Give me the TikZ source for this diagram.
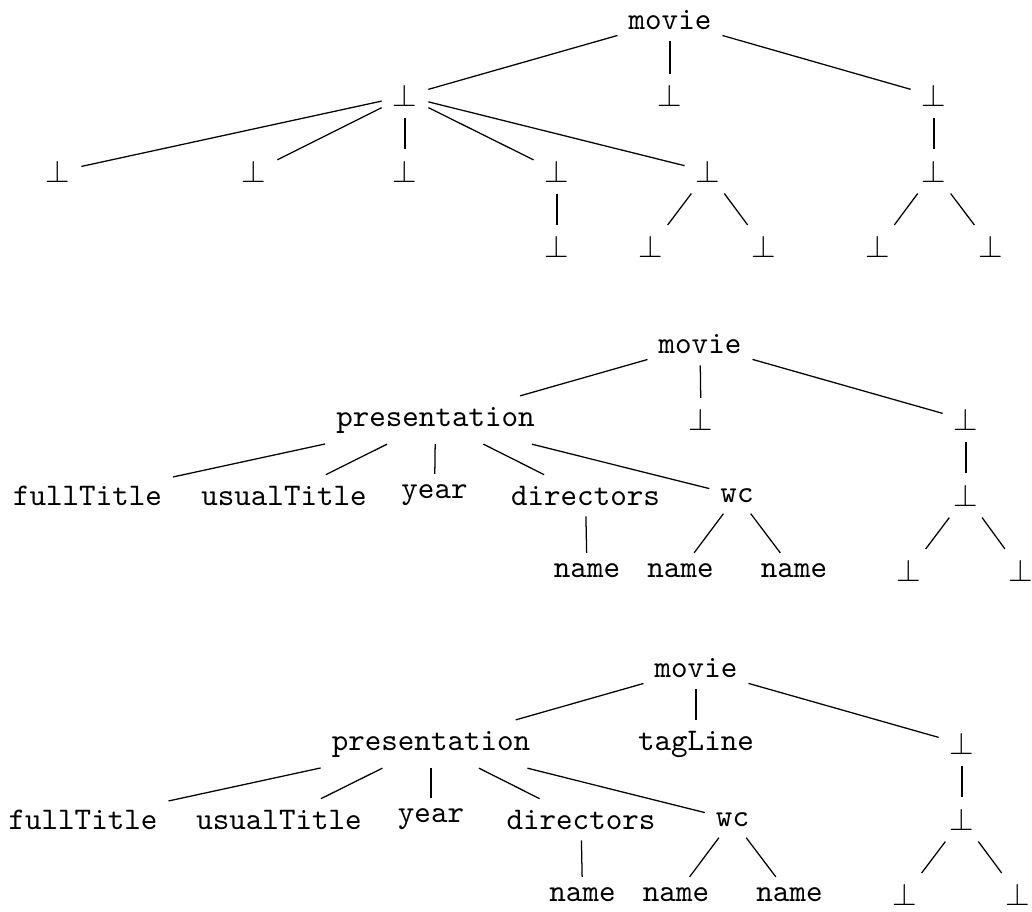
\documentclass[tikz,border=0pt]{standalone}
\usepackage{tikz}

\tikzset{
  lbl/.style={font=\ttfamily, inner sep=0.3333em},
  nil/.style={inner sep=0.3333em},
}
\newcommand{\nil}{$\bot$}

\begin{document}
\begin{tikzpicture}[x=0.3175pt, y=-0.3175pt]
    \useasboundingbox (0,0) rectangle (1032,911);

    % 第一棵树：全部为空
    \node[lbl] (a) at (670,20.5) {movie};
    \node[nil] (a1) at (405,96) {\nil};
    \node[nil] (a2) at (670,96) {\nil};
    \node[nil] (a3) at (934,96) {\nil};
    \node[nil] (a11) at (58,171.5) {\nil};
    \node[nil] (a12) at (254,171.5) {\nil};
    \node[nil] (a13) at (405,171.5) {\nil};
    \node[nil] (a14) at (557,171.5) {\nil};
    \node[nil] (a15) at (708,171.5) {\nil};
    \node[nil] (a31) at (934,171.5) {\nil};
    \node[nil] (a141) at (557,247) {\nil};
    \node[nil] (a151) at (651,247) {\nil};
    \node[nil] (a152) at (764,247) {\nil};
    \node[nil] (a311) at (878,247) {\nil};
    \node[nil] (a312) at (991,247) {\nil};

    \draw (a) -- (a1);
    \draw (a) -- (a2);
    \draw (a) -- (a3);
    \draw (a1) -- (a11);
    \draw (a1) -- (a12);
    \draw (a1) -- (a13);
    \draw (a1) -- (a14);
    \draw (a1) -- (a15);
    \draw (a3) -- (a31);
    \draw (a14) -- (a141);
    \draw (a15) -- (a151);
    \draw (a15) -- (a152);
    \draw (a31) -- (a311);
    \draw (a31) -- (a312);

    % 第二棵树：presentation 子树已填入
    \node[lbl] (b) at (700,344.5) {movie};
    \node[lbl] (b1) at (435.5,420) {presentation};
    \node[nil] (b2) at (701,420) {\nil};
    \node[nil] (b3) at (966,420) {\nil};
    \node[lbl] (b11) at (87.5,495.5) {fullTitle};
    \node[lbl] (b12) at (284,495.5) {usualTitle};
    \node[lbl] (b13) at (434.5,495.5) {year};
    \node[lbl] (b14) at (585.5,495.5) {directors};
    \node[lbl] (b15) at (737,495.5) {wc};
    \node[nil] (b31) at (966,495.5) {\nil};
    \node[lbl] (b141) at (587,571) {name};
    \node[lbl] (b151) at (680.5,571) {name};
    \node[lbl] (b152) at (794,571) {name};
    \node[nil] (b311) at (909,571) {\nil};
    \node[nil] (b312) at (1021,571) {\nil};

    \draw (b) -- (b1);
    \draw (b) -- (b2);
    \draw (b) -- (b3);
    \draw (b1) -- (b11);
    \draw (b1) -- (b12);
    \draw (b1) -- (b13);
    \draw (b1) -- (b14);
    \draw (b1) -- (b15);
    \draw (b3) -- (b31);
    \draw (b14) -- (b141);
    \draw (b15) -- (b151);
    \draw (b15) -- (b152);
    \draw (b31) -- (b311);
    \draw (b31) -- (b312);

    % 第三棵树：再加上 tagLine
    \node[lbl] (c) at (696,668.5) {movie};
    \node[lbl] (c1) at (431,744) {presentation};
    \node[lbl] (c2) at (696,744) {tagLine};
    \node[nil] (c3) at (962,744) {\nil};
    \node[lbl] (c11) at (83,819.5) {fullTitle};
    \node[lbl] (c12) at (279,819.5) {usualTitle};
    \node[lbl] (c13) at (431,819.5) {year};
    \node[lbl] (c14) at (581,819.5) {directors};
    \node[lbl] (c15) at (732.5,819.5) {wc};
    \node[nil] (c31) at (962,819.5) {\nil};
    \node[lbl] (c141) at (582.5,895) {name};
    \node[lbl] (c151) at (676,895) {name};
    \node[lbl] (c152) at (789.5,895) {name};
    \node[nil] (c311) at (905,895) {\nil};
    \node[nil] (c312) at (1018,895) {\nil};

    \draw (c) -- (c1);
    \draw (c) -- (c2);
    \draw (c) -- (c3);
    \draw (c1) -- (c11);
    \draw (c1) -- (c12);
    \draw (c1) -- (c13);
    \draw (c1) -- (c14);
    \draw (c1) -- (c15);
    \draw (c3) -- (c31);
    \draw (c14) -- (c141);
    \draw (c15) -- (c151);
    \draw (c15) -- (c152);
    \draw (c31) -- (c311);
    \draw (c31) -- (c312);
\end{tikzpicture}
\end{document}
